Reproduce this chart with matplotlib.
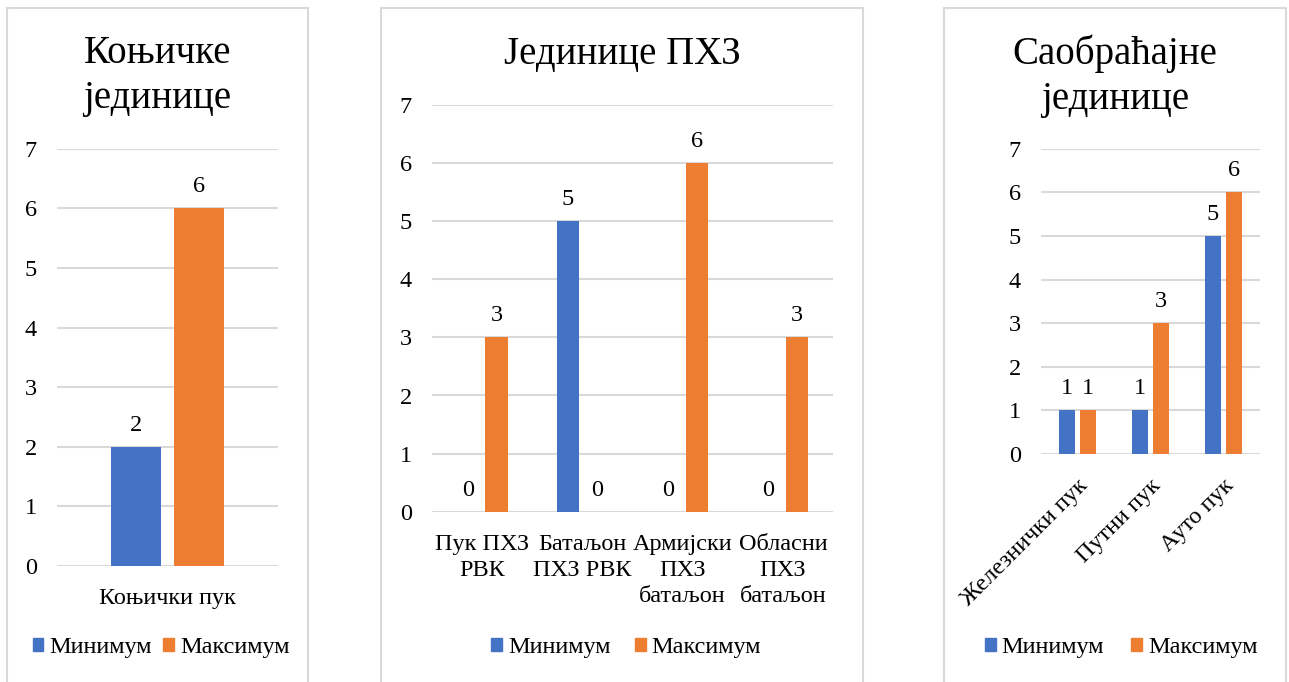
import matplotlib
matplotlib.use("Agg")
import matplotlib.pyplot as plt
import numpy as np
from matplotlib.patches import Rectangle, Patch

plt.rcParams["font.family"] = ["Liberation Serif", "DejaVu Serif"]

W, H = 1289, 682
BLUE = "#4472C4"
ORANGE = "#ED7D31"
GRID = "#d9d9d9"
FS = 17.5

series_names = ["Минимум", "Максимум"]

cav_title = "Коњичке\nјединице"
cav_cats = ["Коњички пук"]
cav_min = [2]
cav_max = [6]

phz_title = "Јединице ПХЗ"
phz_cats = ["Пук ПХЗ\nРВК", "Батаљон\nПХЗ РВК", "Армијски\nПХЗ\nбатаљон", "Обласни\nПХЗ\nбатаљон"]
phz_min = [0, 5, 0, 0]
phz_max = [3, 0, 6, 3]

trf_title = "Саобраћајне\nјединице"
trf_cats = ["Железнички пук", "Путни пук", "Ауто пук"]
trf_min = [1, 1, 5]
trf_max = [1, 3, 6]

fig = plt.figure(figsize=(W / 100, H / 100), dpi=100)


def px_axes(x0, x1, ytop, ybot):
    return fig.add_axes([x0 / W, 1 - ybot / H, (x1 - x0) / W, (ybot - ytop) / H])


def border(x0, x1, ytop):
    fig.patches.append(Rectangle((x0 / W, -0.05), (x1 - x0) / W, 1.05 - ytop / H,
                                 transform=fig.transFigure, fill=False,
                                 edgecolor=GRID, lw=1.5))


def panel(box, bx, title, title_y, cats, vmin, vmax, leg_x, colsp, rot=False, lab_pad=10):
    x0, x1, ytop, ybot = box
    border(*bx)
    ax = px_axes(x0, x1, ytop, ybot)
    x = np.arange(len(cats))
    w, off = 0.226, 0.1425
    b1 = ax.bar(x - off, vmin, w, color=BLUE, zorder=3)
    b2 = ax.bar(x + off, vmax, w, color=ORANGE, zorder=3)
    for bars in (b1, b2):
        ax.bar_label(bars, padding=8, fontsize=FS)
    ax.set_ylim(0, 7)
    ax.set_xlim(-0.5, len(cats) - 0.5)
    ax.set_yticks(range(8))
    ax.yaxis.grid(True, color=GRID, lw=1.5, zorder=0)
    ax.set_axisbelow(True)
    for s in ax.spines.values():
        s.set_visible(False)
    ax.tick_params(axis="y", length=0, labelsize=FS, pad=14.5)
    ax.set_xticks(x)
    if rot:
        ax.set_xticklabels(cats, rotation=45, ha="right", rotation_mode="anchor", fontsize=FS)
    else:
        ax.set_xticklabels(cats, fontsize=FS, linespacing=1.3)
    ax.tick_params(axis="x", length=0, pad=lab_pad)
    cx = (bx[0] + bx[1]) / 2
    fig.text(cx / W, 1 - title_y / H, title, ha="center", va="center",
             fontsize=28, linespacing=1.3)
    handles = [Patch(color=BLUE), Patch(color=ORANGE)]
    fig.legend(handles, series_names, loc="center", ncol=2, frameon=False,
               bbox_to_anchor=(leg_x / W, 1 - 648 / H), fontsize=FS,
               handlelength=0.45, handleheight=0.45, handletextpad=0.25,
               columnspacing=colsp)
    return ax


panel((57, 278, 148.7, 566), (7, 308, 8), cav_title, 76, cav_cats, cav_min, cav_max,
      161, 0.45, lab_pad=16)
panel((432, 833, 105, 511.7), (381, 863, 8), phz_title, 55, phz_cats, phz_min, phz_max,
      626, 1.0, lab_pad=16)
panel((1041, 1260, 148.7, 454), (944, 1286, 8), trf_title, 76, trf_cats, trf_min, trf_max,
      1121, 1.1, rot=True, lab_pad=15)

fig.savefig("out.png", dpi=100)
